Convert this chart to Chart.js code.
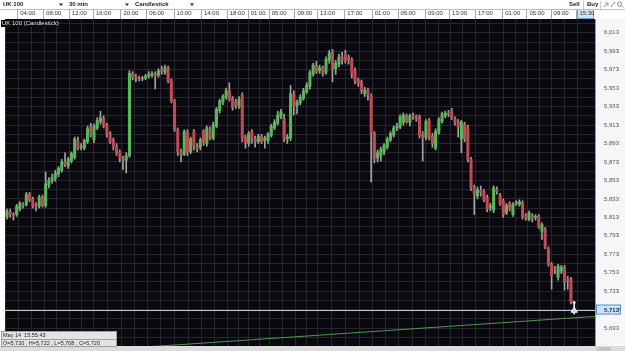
<!DOCTYPE html>
<html><head><meta charset="utf-8">
<script src="https://cdn.jsdelivr.net/npm/chart.js@4"></script>
<style>html,body{margin:0;padding:0;background:#fff;overflow:hidden}canvas{display:block}</style>
</head><body>
<canvas id="c" width="625" height="351"></canvas>
<script>
const opens = [5814,5819,5816,5816,5822,5827,5827,5838,5833,5827,5825,5835,5826,5848,5853,5855,5860,5864,5873,5869,5874,5878,5896,5889,5888,5895,5912,5897,5910,5917,5920,5913,5904,5896,5890,5884,5876,5875,5880,5969,5965,5964,5963,5964,5966,5967,5969,5967,5972,5970,5975,5961,5939,5908,5884,5881,5905,5884,5906,5890,5889,5906,5893,5908,5899,5912,5929,5938,5943,5950,5942,5938,5933,5945,5900,5893,5906,5898,5895,5901,5896,5896,5902,5910,5915,5922,5920,5898,5899,5946,5934,5937,5942,5949,5955,5968,5977,5972,5975,5970,5983,5992,5974,5979,5986,5990,5986,5984,5972,5962,5960,5947,5951,5945,5904,5877,5880,5884,5889,5897,5902,5910,5911,5916,5923,5916,5923,5922,5922,5903,5900,5918,5901,5888,5905,5917,5923,5926,5928,5920,5917,5898,5914,5911,5876,5845,5836,5842,5841,5835,5824,5821,5843,5837,5831,5818,5828,5816,5828,5827,5829,5815,5811,5815,5813,5814,5798,5800,5779,5762,5758,5748,5755,5759,5746,5746,5720];
const highs = [5822,5822,5818,5827,5830,5829,5840,5840,5835,5829,5837,5837,5862,5856,5860,5864,5868,5876,5883,5878,5884,5900,5900,5893,5898,5912,5915,5914,5921,5928,5923,5915,5906,5899,5893,5886,5879,5883,5972,5971,5968,5966,5966,5968,5971,5971,5971,5974,5977,5978,5977,5963,5941,5910,5887,5908,5908,5900,5908,5893,5899,5908,5912,5911,5916,5932,5941,5946,5953,5959,5944,5941,5944,5948,5902,5906,5908,5901,5903,5903,5901,5905,5914,5919,5928,5930,5925,5903,5956,5950,5940,5946,5953,5959,5972,5980,5982,5978,5977,5987,5994,5995,5983,5990,5992,5994,5989,5986,5975,5964,5962,5954,5953,5947,5906,5886,5889,5893,5900,5906,5912,5915,5924,5926,5925,5925,5926,5924,5924,5906,5919,5920,5904,5909,5921,5927,5928,5929,5931,5922,5919,5918,5916,5913,5878,5848,5846,5847,5843,5837,5828,5847,5846,5839,5833,5828,5830,5829,5831,5832,5831,5817,5820,5817,5816,5816,5807,5802,5781,5764,5760,5762,5761,5761,5749,5748,5722];
const lows = [5811,5813,5810,5814,5820,5823,5825,5830,5823,5820,5823,5824,5824,5845,5850,5852,5857,5862,5868,5866,5872,5876,5886,5886,5886,5893,5900,5894,5908,5914,5910,5900,5893,5886,5880,5873,5865,5861,5878,5962,5960,5961,5961,5962,5964,5965,5952,5965,5968,5968,5959,5937,5906,5880,5873,5880,5880,5882,5886,5884,5886,5891,5890,5897,5897,5910,5926,5935,5941,5939,5929,5931,5931,5895,5888,5890,5893,5889,5893,5893,5888,5893,5900,5908,5913,5920,5895,5893,5896,5924,5925,5935,5940,5947,5952,5966,5969,5969,5966,5968,5980,5960,5968,5976,5979,5980,5979,5964,5958,5955,5947,5944,5940,5851,5872,5873,5874,5881,5887,5895,5900,5907,5909,5913,5915,5912,5919,5917,5899,5874,5897,5897,5889,5886,5903,5915,5921,5922,5919,5913,5900,5883,5895,5873,5842,5816,5833,5836,5830,5819,5820,5818,5838,5826,5813,5816,5820,5814,5826,5825,5811,5810,5809,5808,5810,5801,5789,5779,5760,5735,5752,5745,5752,5734,5735,5719,5708];
const closes = [5820,5816,5815,5825,5828,5826,5838,5832,5825,5825,5835,5826,5849,5853,5856,5861,5866,5873,5870,5876,5882,5898,5889,5890,5896,5909,5903,5912,5918,5921,5912,5903,5895,5890,5883,5877,5875,5880,5969,5965,5964,5963,5964,5966,5968,5969,5967,5972,5971,5975,5961,5939,5908,5884,5881,5906,5884,5898,5890,5888,5897,5895,5910,5899,5913,5930,5939,5944,5950,5941,5932,5934,5941,5898,5894,5904,5897,5895,5901,5895,5899,5903,5912,5916,5924,5927,5898,5900,5947,5934,5938,5943,5950,5956,5970,5978,5971,5975,5969,5984,5991,5974,5980,5987,5984,5983,5984,5967,5961,5958,5950,5951,5946,5904,5877,5883,5887,5891,5898,5904,5910,5912,5922,5924,5917,5923,5922,5920,5902,5899,5917,5899,5893,5906,5919,5925,5926,5925,5921,5916,5911,5916,5898,5876,5845,5838,5843,5840,5832,5822,5825,5845,5841,5828,5816,5826,5822,5827,5829,5830,5813,5813,5818,5813,5814,5803,5805,5781,5762,5750,5757,5760,5759,5743,5744,5721,5720];

const tickIndex = [3.5,11.5,19.5,27,35.5,43.5,52,60.5,68.5,75,81.5,89.5,96.5,105,113.5,121.5,130,137.5,145.5,154,161.5,169,177];
const tickLabels = ["04:00","08:00","12:00","16:00","20:00","06:00","10:00","14:00","18:00","01:00","05:00","09:00","13:00","17:00","01:00","05:00","09:00","13:00","17:00","01:00","05:00","09:00","15:30"];
const priceLabels = [6013,5993,5973,5953,5933,5913,5893,5873,5853,5833,5813,5793,5773,5753,5733,5713,5693];
const currentPrice = 5713;
const markerPrice = 5712;
const trendX = [40, 182.46];
const trendY = [5671.7, 5705.6];
const chartTitle = "UK 100 (Candlestick)";
const infoLines = ["May 14  15:55:43", "O=5,720 , H=5,722 , L=5,708 , C=5,720"];
const toolbarItems = ["UK 100", "30 min", "Candlestick"];

const FONT = "'Liberation Sans', Arial, sans-serif";
const GREEN = '#58b858', RED = '#c24a54';
const n = opens.length;
const idx = opens.map((_, i) => i);
const bodies = idx.map(i => ({x: i, y: [opens[i], closes[i]]}));
const wicks = idx.map(i => ({x: i, y: [lows[i], highs[i]]}));
const bodyColor = i => i === n - 1 ? '#f0f0f0' : (closes[i] > opens[i] ? GREEN : (closes[i] < opens[i] ? RED : '#bbbbbb'));

const gridX = [];
tickIndex.forEach((v, k) => {
  if (k > 0) gridX.push((tickIndex[k-1] + v) / 2);
  gridX.push(v);
});
gridX.unshift(tickIndex[0] - (tickIndex[1]-tickIndex[0]) / 2);
const gridY = [];
priceLabels.forEach((v) => { gridY.push(v + 10); gridY.push(v); });
gridY.push(priceLabels[priceLabels.length-1] - 10);

const fmt = v => Math.round(v).toLocaleString('en-US');

const frame = {
  id: 'frame',
  beforeDraw(chart) {
    const c = chart.ctx, a = chart.chartArea;
    c.save();
    c.fillStyle = '#ffffff';
    c.fillRect(0, 0, chart.width, chart.height);
    c.fillStyle = '#f7f7f7';
    c.fillRect(a.right, a.top, chart.width - a.right, a.bottom - a.top);
    c.fillStyle = '#08080e';
    c.fillRect(a.left, a.top, a.right - a.left, a.bottom - a.top);
    c.fillStyle = '#dcdcdc';
    c.fillRect(0, a.bottom, chart.width, chart.height - a.bottom);
    c.fillStyle = '#c4c4c4';
    c.fillRect(a.right + 2, a.bottom + 1, 14, chart.height - a.bottom - 1);
    const xs = chart.scales.x;
    const lx = Math.round(xs.getPixelForValue(tickIndex[tickIndex.length-1]));
    c.fillStyle = '#cfe2f6';
    c.fillRect(lx, 9.5, 16, 9);
    c.strokeStyle = '#6d9ed8';
    c.lineWidth = 1;
    c.strokeRect(lx + 0.5, 9.5, 16, 9);
    c.restore();
  },
  beforeDatasetsDraw(chart) {
    const c = chart.ctx, a = chart.chartArea, ys = chart.scales.y;
    const y = Math.round(ys.getPixelForValue(currentPrice)) + 0.5;
    c.save();
    c.strokeStyle = '#c9c9d2';
    c.lineWidth = 1;
    c.beginPath(); c.moveTo(a.left, y); c.lineTo(a.right, y); c.stroke();
    c.restore();
  },
  afterDraw(chart) {
    const c = chart.ctx, a = chart.chartArea, xs = chart.scales.x, ys = chart.scales.y;
    c.save();
    c.strokeStyle = '#a8a8a8';
    c.lineWidth = 1;
    tickIndex.forEach(v => {
      const x = Math.round(xs.getPixelForValue(v)) - 0.5;
      c.beginPath(); c.moveTo(x, 10); c.lineTo(x, a.top); c.stroke();
    });
    c.strokeStyle = '#bdbdbd';
    c.beginPath(); c.moveTo(0, 9.5); c.lineTo(chart.width, 9.5); c.stroke();
    c.fillStyle = '#08080e';
    c.fillRect(1, a.top + 1, 56, 7);
    c.fillStyle = '#e6e6e6';
    c.font = '6px ' + FONT;
    c.textBaseline = 'middle';
    c.textAlign = 'left';
    c.fillText(chartTitle, 2, a.top + 4.5);
    c.fillStyle = '#222';
    c.font = 'bold 6px ' + FONT;
    const tx = [3, 69, 135], ax = [61, 127, 192];
    toolbarItems.forEach((t, k) => {
      c.fillText(t, tx[k], 4.8);
      c.beginPath();
      c.moveTo(ax[k] - 2, 3.5); c.lineTo(ax[k] + 2, 3.5); c.lineTo(ax[k], 6); c.closePath(); c.fill();
    });
    c.fillText('Sell', 569, 4.8);
    c.fillText('Buy', 587, 4.8);
    c.strokeStyle = '#c8c8c8';
    c.beginPath(); c.moveTo(583.5, 1); c.lineTo(583.5, 9); c.moveTo(600.5, 1); c.lineTo(600.5, 9); c.stroke();
    c.strokeStyle = '#7aa0cc';
    c.beginPath(); c.moveTo(604, 7); c.lineTo(608, 3); c.moveTo(605, 3); c.lineTo(608, 3); c.lineTo(608, 6); c.stroke();
    c.strokeStyle = '#888';
    c.beginPath(); c.moveTo(611, 7); c.lineTo(615, 2); c.stroke();
    c.beginPath(); c.arc(619.5, 4, 2, 0, Math.PI * 2); c.moveTo(621, 5.5); c.lineTo(623, 7.5); c.stroke();
    const py = ys.getPixelForValue(currentPrice);
    c.fillStyle = '#cde2f7';
    c.fillRect(a.right + 1, py - 5, 25, 10);
    c.strokeStyle = '#5d90cf';
    c.strokeRect(a.right + 1.5, py - 4.5, 24, 9);
    c.fillStyle = '#13315e';
    c.font = 'bold 6px ' + FONT;
    c.fillText(fmt(currentPrice), a.right + 9, py + 0.5);
    c.font = '5px ' + FONT;
    c.fillText('\u2191', a.right + 23, py + 0.5);
    c.fillStyle = '#e4e4e4';
    c.fillRect(1, 331, 116, 16);
    c.strokeStyle = '#9e9e9e';
    c.strokeRect(1.5, 331.5, 115, 15);
    c.beginPath(); c.moveTo(1.5, 339.5); c.lineTo(116.5, 339.5); c.stroke();
    c.fillStyle = '#222';
    c.font = '5.5px ' + FONT;
    c.fillText(infoLines[0], 3, 335.7);
    c.fillText(infoLines[1], 3, 343.5);
    c.restore();
  }
};

new Chart(document.getElementById('c'), {
  type: 'bar',
  data: {
    datasets: [
      { type: 'line', data: [{x: n - 1, y: markerPrice}], showLine: false, pointStyle: 'triangle',
        pointRadius: 3.5, backgroundColor: '#b9d5f0', borderColor: '#e9f4ff', borderWidth: 1, order: 0 },
      { type: 'line', data: trendX.map((x, k) => ({x, y: trendY[k]})), borderColor: '#4e9a4e',
        borderWidth: 1, pointRadius: 0, order: 3 },
      { data: bodies, grouped: false, barThickness: 2.4, minBarLength: 1, borderWidth: 0, borderSkipped: false,
        backgroundColor: ctx => bodyColor(ctx.dataIndex), order: 1 },
      { data: wicks, grouped: false, barThickness: 1, borderWidth: 0, borderSkipped: false,
        backgroundColor: ctx => ctx.dataIndex === n - 1 ? '#f0f0f0' : '#a2a2a2', order: 2 }
    ]
  },
  options: {
    responsive: false,
    devicePixelRatio: 1,
    animation: false,
    layout: { padding: { top: 9, bottom: 4, left: 0, right: 0 } },
    plugins: { legend: { display: false }, tooltip: { enabled: false } },
    scales: {
      x: {
        type: 'linear', position: 'top', min: -0.615, max: 182.46, offset: false,
        grid: { color: '#26262c', drawTicks: false, offset: false },
        border: { display: false },
        ticks: {
          autoSkip: false, maxRotation: 0, align: 'start', labelOffset: 2, padding: 2,
          font: { family: FONT, size: 6 }, color: '#333',
          callback: v => { const k = tickIndex.indexOf(v); return k >= 0 ? tickLabels[k] : ''; }
        },
        afterBuildTicks: s => { s.ticks = gridX.map(v => ({ value: v })); },
        afterFit: s => { s.height = 10; }
      },
      y: {
        type: 'linear', position: 'right', min: 5673.5, max: 6028,
        grid: { color: '#26262c', drawTicks: true, tickLength: 9, tickColor: 'rgba(0,0,0,0)' },
        border: { display: true, color: '#9c9c9c' },
        ticks: {
          autoSkip: false, padding: 0, font: { family: FONT, size: 6 }, color: '#555',
          callback: v => priceLabels.includes(v) ? fmt(v) : ''
        },
        afterBuildTicks: s => { s.ticks = gridY.map(v => ({ value: v })); },
        afterFit: s => { s.width = 30; }
      }
    }
  },
  plugins: [frame]
});
</script>
</body></html>
